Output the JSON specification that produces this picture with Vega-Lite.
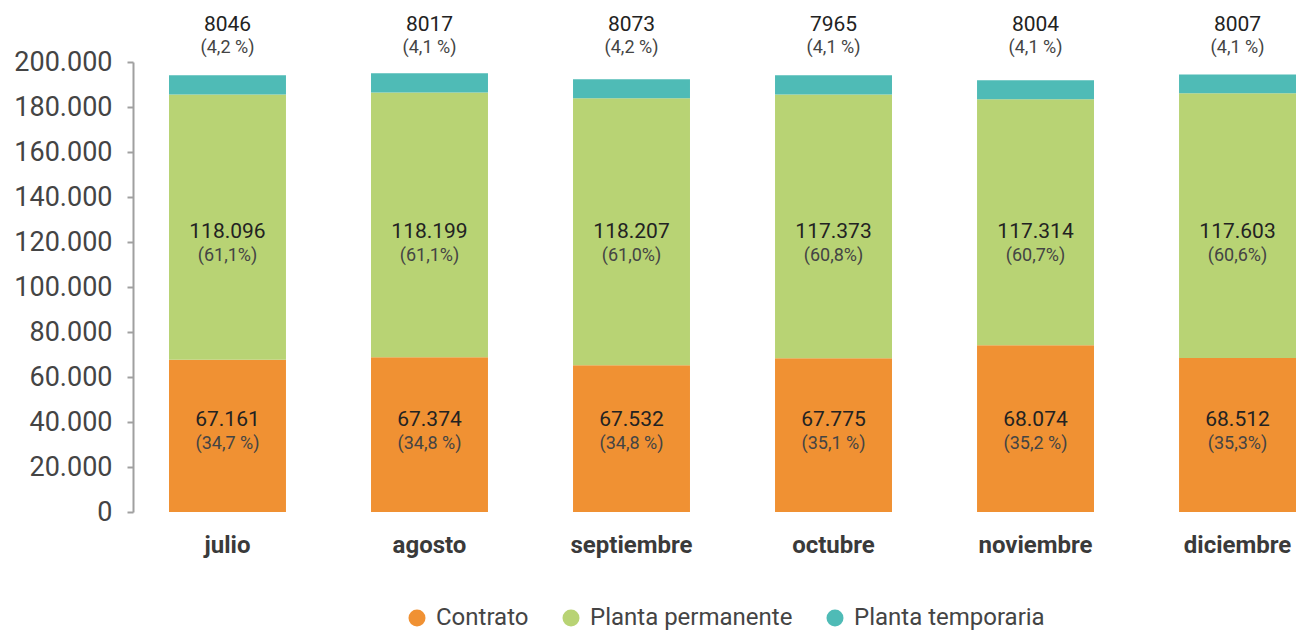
{
  "$schema": "https://vega.github.io/schema/vega-lite/v6.json",
  "autosize": "none",
  "width": 1164,
  "height": 450,
  "padding": {"left": 133, "top": 62, "right": 0, "bottom": 118},
  "background": "white",
  "config": {
    "font": "Roboto",
    "view": {"stroke": null},
    "axis": {"labelFont": "Roboto", "titleFont": "Roboto"},
    "legend": {"labelFont": "Roboto"}
  },
  "data": {
    "values": [
      {"mes": "julio", "tipo": "Contrato", "valor": 67700, "num": "67.161", "pct": "(34,7 %)"},
      {"mes": "julio", "tipo": "Planta permanente", "valor": 117900, "num": "118.096", "pct": "(61,1%)"},
      {"mes": "julio", "tipo": "Planta temporaria", "valor": 8500, "num": "8046", "pct": "(4,2 %)"},
      {"mes": "agosto", "tipo": "Contrato", "valor": 68800, "num": "67.374", "pct": "(34,8 %)"},
      {"mes": "agosto", "tipo": "Planta permanente", "valor": 117700, "num": "118.199", "pct": "(61,1%)"},
      {"mes": "agosto", "tipo": "Planta temporaria", "valor": 8500, "num": "8017", "pct": "(4,1 %)"},
      {"mes": "septiembre", "tipo": "Contrato", "valor": 65200, "num": "67.532", "pct": "(34,8 %)"},
      {"mes": "septiembre", "tipo": "Planta permanente", "valor": 118700, "num": "118.207", "pct": "(61,0%)"},
      {"mes": "septiembre", "tipo": "Planta temporaria", "valor": 8400, "num": "8073", "pct": "(4,2 %)"},
      {"mes": "octubre", "tipo": "Contrato", "valor": 68300, "num": "67.775", "pct": "(35,1 %)"},
      {"mes": "octubre", "tipo": "Planta permanente", "valor": 117300, "num": "117.373", "pct": "(60,8%)"},
      {"mes": "octubre", "tipo": "Planta temporaria", "valor": 8500, "num": "7965", "pct": "(4,1 %)"},
      {"mes": "noviembre", "tipo": "Contrato", "valor": 74100, "num": "68.074", "pct": "(35,2 %)"},
      {"mes": "noviembre", "tipo": "Planta permanente", "valor": 109300, "num": "117.314", "pct": "(60,7%)"},
      {"mes": "noviembre", "tipo": "Planta temporaria", "valor": 8500, "num": "8004", "pct": "(4,1 %)"},
      {"mes": "diciembre", "tipo": "Contrato", "valor": 68400, "num": "68.512", "pct": "(35,3%)"},
      {"mes": "diciembre", "tipo": "Planta permanente", "valor": 117700, "num": "117.603", "pct": "(60,6%)"},
      {"mes": "diciembre", "tipo": "Planta temporaria", "valor": 8400, "num": "8007", "pct": "(4,1 %)"}
    ]
  },
  "encoding": {
    "x": {
      "field": "mes",
      "type": "nominal",
      "sort": ["julio", "agosto", "septiembre", "octubre", "noviembre", "diciembre"],
      "scale": {"paddingInner": 0.421, "paddingOuter": 0.0916, "align": 0.973},
      "axis": {
        "title": null,
        "domain": false,
        "ticks": false,
        "labelAngle": 0,
        "labelFontSize": 24,
        "labelFontWeight": "bold",
        "labelColor": "#3a3a3a",
        "labelPadding": 21
      }
    }
  },
  "layer": [
    {
      "mark": {"type": "bar"},
      "encoding": {
        "y": {
          "field": "valor",
          "type": "quantitative",
          "stack": "zero",
          "scale": {"domain": [0, 200000], "nice": false},
          "axis": {
            "title": null,
            "grid": false,
            "values": [0, 20000, 40000, 60000, 80000, 100000, 120000, 140000, 160000, 180000, 200000],
            "labelExpr": "replace(format(datum.value, ','), ',', '.')",
            "labelFontSize": 27,
            "labelColor": "#444444",
            "labelPadding": 15,
            "tickSize": 6,
            "tickColor": "#a0a0a0",
            "tickWidth": 2,
            "domainColor": "#a0a0a0",
            "domainWidth": 2
          }
        },
        "color": {
          "field": "tipo",
          "type": "nominal",
          "scale": {
            "domain": ["Contrato", "Planta permanente", "Planta temporaria"],
            "range": ["#F09133", "#B8D374", "#4FBBB6"]
          },
          "legend": {
            "title": null,
            "orient": "none",
            "direction": "horizontal",
            "legendX": 272,
            "legendY": 544,
            "symbolType": "circle",
            "symbolSize": 289,
            "symbolStrokeWidth": 0,
            "labelFontSize": 24,
            "labelLimit": 0,
            "labelColor": "#444444",
            "labelOffset": 7,
            "columnPadding": 30
          }
        },
        "order": {"field": "tipo", "sort": "ascending"}
      }
    },
    {
      "transform": [{"filter": "datum.tipo === 'Contrato'"}],
      "encoding": {"y": {"datum": 40800}},
      "layer": [
        {"mark": {"type": "text", "fontSize": 21, "color": "#222222", "baseline": "middle"}, "encoding": {"text": {"field": "num"}}},
        {"mark": {"type": "text", "fontSize": 18, "color": "#444444", "baseline": "middle", "dy": 23.5}, "encoding": {"text": {"field": "pct"}}}
      ]
    },
    {
      "transform": [{"filter": "datum.tipo === 'Planta permanente'"}],
      "encoding": {"y": {"datum": 124300}},
      "layer": [
        {"mark": {"type": "text", "fontSize": 21, "color": "#222222", "baseline": "middle"}, "encoding": {"text": {"field": "num"}}},
        {"mark": {"type": "text", "fontSize": 18, "color": "#444444", "baseline": "middle", "dy": 23.5}, "encoding": {"text": {"field": "pct"}}}
      ]
    },
    {
      "transform": [{"filter": "datum.tipo === 'Planta temporaria'"}],
      "encoding": {"y": {"datum": 216500}},
      "layer": [
        {"mark": {"type": "text", "fontSize": 21, "color": "#222222", "baseline": "middle"}, "encoding": {"text": {"field": "num"}}},
        {"mark": {"type": "text", "fontSize": 18, "color": "#444444", "baseline": "middle", "dy": 23.5}, "encoding": {"text": {"field": "pct"}}}
      ]
    }
  ]
}
